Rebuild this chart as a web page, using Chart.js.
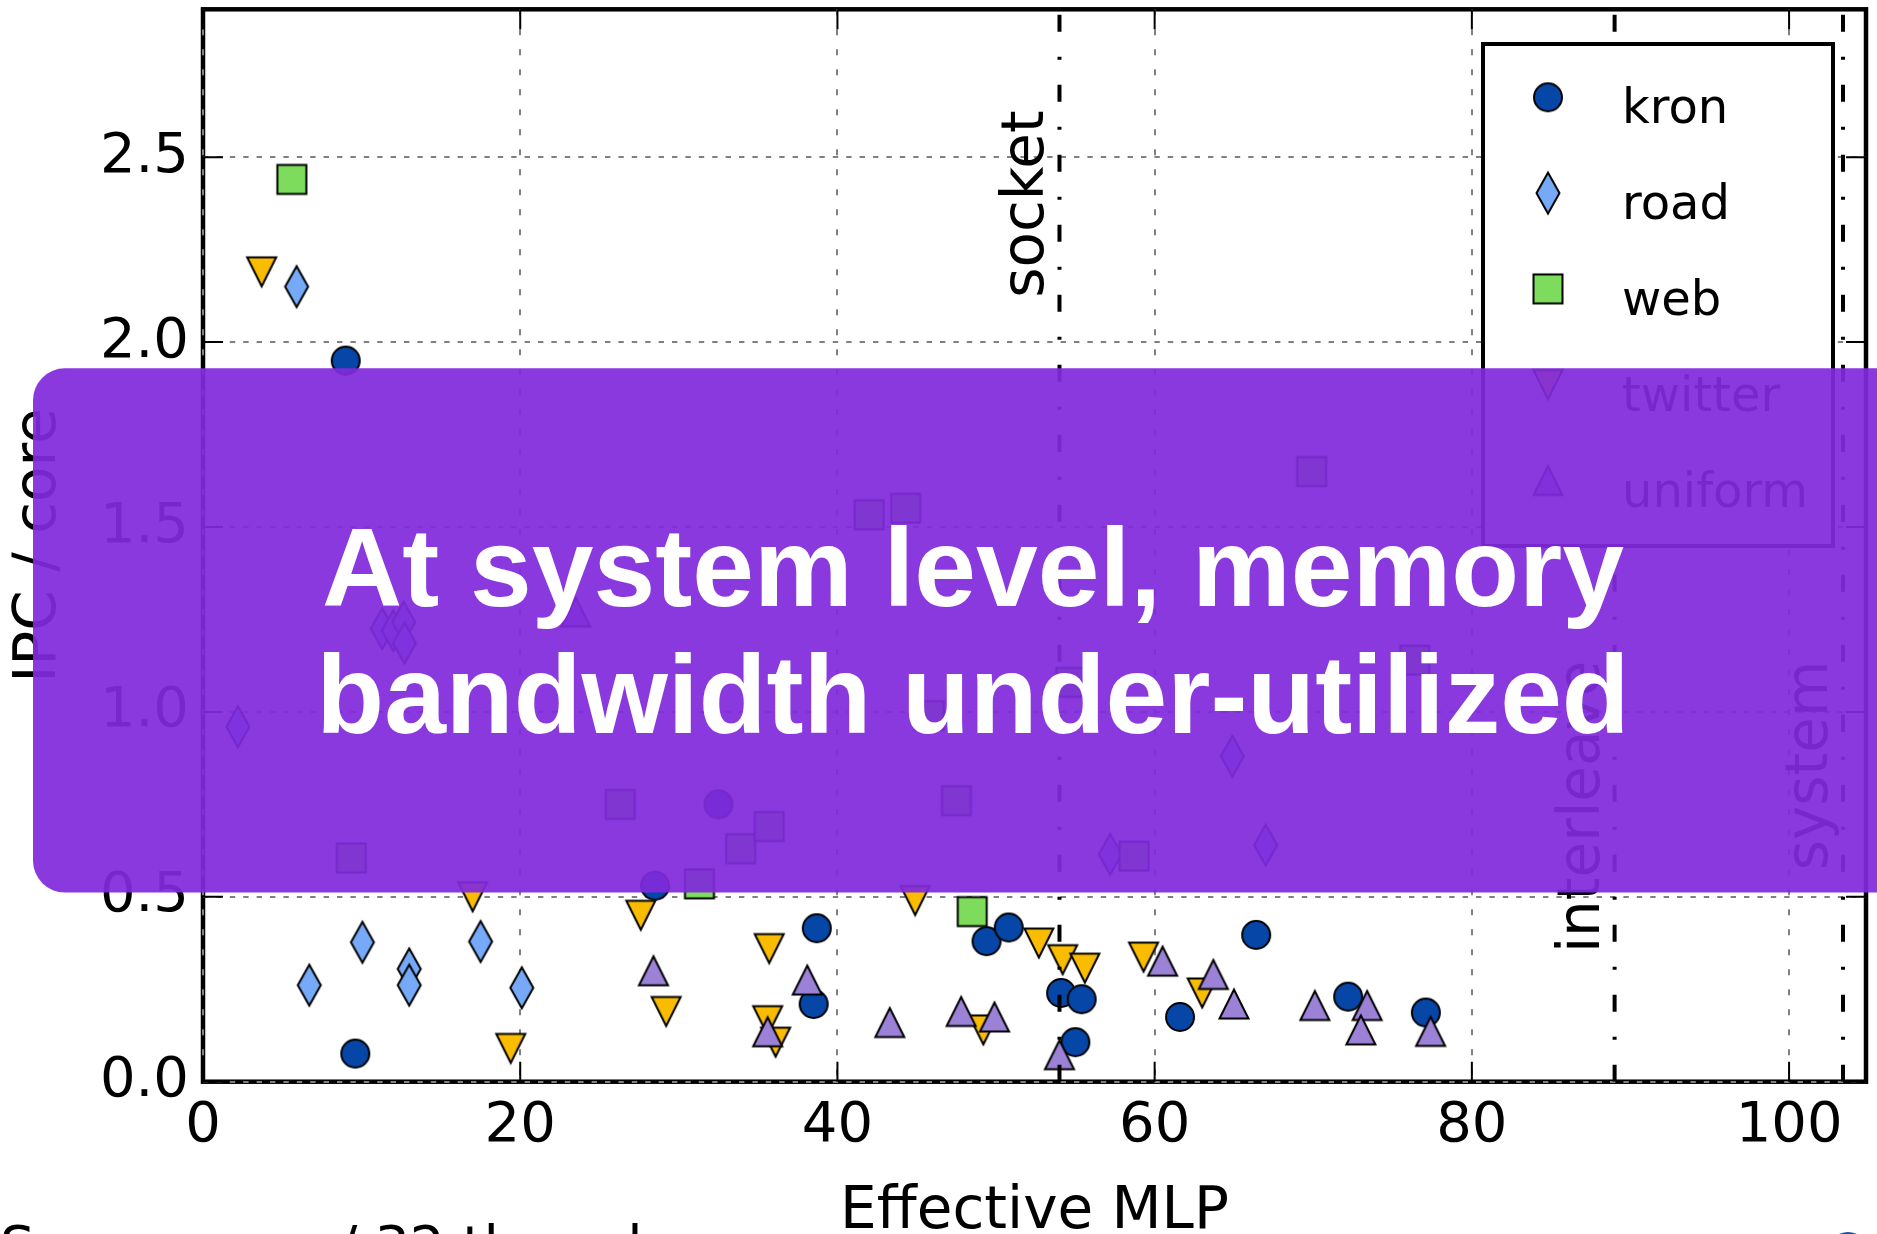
<!DOCTYPE html>
<html>
<head>
<meta charset="utf-8">
<script src="https://cdn.jsdelivr.net/npm/chart.js@4/dist/chart.umd.min.js"></script>
<style>
  html, body { margin: 0; padding: 0; background: #ffffff; overflow: hidden; }
  #wrap { position: relative; width: 1877px; height: 1234px; }
  canvas { display: block; }
</style>
</head>
<body>
<div id="wrap"><canvas id="chart" width="1877" height="1234"></canvas></div>
<script>
// ---- data: effective MLP (x) vs IPC per core (y) for each input graph ----
const kronX = [9.0, 9.6, 28.5, 32.5, 38.7, 38.5, 49.4, 50.8, 54.1, 55.4, 55.0, 61.6, 66.4, 72.2, 77.1];
const kronY = [1.95, 0.076, 0.53, 0.75, 0.415, 0.21, 0.38, 0.417, 0.24, 0.223, 0.107, 0.175, 0.397, 0.23, 0.187];

const roadX = [5.9, 2.2, 11.3, 12.0, 12.65, 12.7, 6.7, 10.05, 13.0, 13.0, 17.5, 20.1, 57.2, 64.9, 67.0];
const roadY = [2.15, 0.96, 1.225, 1.22, 1.243, 1.186, 0.261, 0.377, 0.305, 0.261, 0.379, 0.254, 0.615, 0.88, 0.64];

const webX = [5.6, 9.35, 26.3, 31.3, 33.9, 35.7, 42.0, 44.3, 45.8, 47.5, 48.5, 54.7, 58.7, 69.9, 76.4];
const webY = [2.44, 0.605, 0.75, 0.535, 0.63, 0.69, 1.533, 1.551, 0.99, 0.76, 0.46, 1.08, 0.61, 1.65, 1.14];

const twitterX = [3.7, 17.0, 19.4, 27.6, 29.2, 35.7, 35.6, 36.1, 44.9, 49.2, 52.7, 54.2, 55.6, 59.3, 63.0];
const twitterY = [2.19, 0.50, 0.09, 0.45, 0.19, 0.36, 0.165, 0.107, 0.49, 0.14, 0.375, 0.33, 0.307, 0.337, 0.24];

const uniformX = [23.5, 28.4, 38.1, 35.6, 43.3, 47.8, 49.9, 54.0, 60.5, 63.7, 65.0, 70.1, 73.4, 73.0, 77.4];
const uniformY = [1.27, 0.30, 0.275, 0.135, 0.16, 0.19, 0.175, 0.073, 0.326, 0.29, 0.21, 0.206, 0.206, 0.14, 0.136];

// MLP limits drawn as vertical reference lines
const limitNames = ['socket', 'interleave', 'system'];
const limitValues = [54.0, 89.0, 103.4];

// axes
const xTickValues = [0, 20, 40, 60, 80, 100];
const xTickLabels = ['0', '20', '40', '60', '80', '100'];
const yTickValues = [0, 0.5, 1.0, 1.5, 2.0, 2.5];
const yTickLabels = ['0.0', '0.5', '1.0', '1.5', '2.0', '2.5'];
const xTitle = 'Effective MLP';
const yTitle = 'IPC / core';
const X_MAX = 104.85;
const Y_MAX = 2.9;

const headline = ['At system level, memory', 'bandwidth under-utilized'];
const footnote = 'Some cores / 32 threads';

// ---- styling ----
const FONT = "'DejaVu Sans'";
const seriesStyle = [
  { label: 'kron',    xs: kronX,    ys: kronY,    shape: 'circle',      fill: '#0646a6' },
  { label: 'road',    xs: roadX,    ys: roadY,    shape: 'thinDiamond', fill: '#76aaf8' },
  { label: 'web',     xs: webX,     ys: webY,     shape: 'square',      fill: '#7ddc5c' },
  { label: 'twitter', xs: twitterX, ys: twitterY, shape: 'triDown',     fill: '#f9bc00' },
  { label: 'uniform', xs: uniformX, ys: uniformY, shape: 'triUp',       fill: '#9b82d6' }
];
// where each limit label starts (value on the y axis)
const limitLabelStart = [2.12, 0.348, 0.572];

function makeMarker(shape, fill) {
  const c = document.createElement('canvas');
  c.width = 40; c.height = 52;
  const g = c.getContext('2d');
  g.translate(20, 26);
  g.beginPath();
  if (shape === 'circle') {
    g.arc(0, 0, 14, 0, Math.PI * 2);
  } else if (shape === 'thinDiamond') {
    g.moveTo(0, -20.5); g.lineTo(11.5, 0); g.lineTo(0, 20.5); g.lineTo(-11.5, 0); g.closePath();
  } else if (shape === 'square') {
    g.rect(-14.5, -14.5, 29, 29);
  } else if (shape === 'triDown') {
    g.moveTo(-14.5, -14.5); g.lineTo(14.5, -14.5); g.lineTo(0, 14.5); g.closePath();
  } else if (shape === 'triUp') {
    g.moveTo(-14.5, 14.5); g.lineTo(14.5, 14.5); g.lineTo(0, -14.5); g.closePath();
  }
  g.fillStyle = fill;
  g.fill();
  g.lineWidth = 2;
  g.lineJoin = 'miter';
  g.strokeStyle = '#000000';
  g.stroke();
  return c;
}

const markers = seriesStyle.map(s => makeMarker(s.shape, s.fill));

const scatterSets = seriesStyle.map((s, i) => ({
  type: 'scatter',
  label: s.label,
  data: s.xs.map((x, j) => ({ x: x, y: s.ys[j] })),
  pointStyle: markers[i],
  pointRadius: 15,
  pointHoverRadius: 15,
  order: seriesStyle.length - i
}));

const limitSets = limitValues.map((v, i) => ({
  type: 'line',
  label: limitNames[i],
  data: [{ x: v, y: 0 }, { x: v, y: Y_MAX }],
  borderColor: '#000000',
  borderWidth: 4,
  borderDash: [17, 25, 3, 25],
  pointRadius: 0,
  showLine: true,
  fill: false,
  order: 0
}));

// axis frame underneath the grid (grid dots show over the spines)
const framePlugin = {
  id: 'frame',
  beforeDraw(chart) {
    const { ctx, chartArea: a } = chart;
    ctx.save();
    ctx.strokeStyle = '#000000';
    ctx.lineWidth = 4.5;
    ctx.strokeRect(a.left, a.top, a.right - a.left, a.bottom - a.top);
    ctx.restore();
  }
};

// inward tick marks on all four sides
const tickPlugin = {
  id: 'inTicks',
  afterDatasetsDraw(chart) {
    const { ctx, chartArea: a, scales } = chart;
    const L = 20;
    ctx.save();
    ctx.strokeStyle = '#000000';
    ctx.lineWidth = 2;
    ctx.beginPath();
    xTickValues.forEach(v => {
      const px = scales.x.getPixelForValue(v);
      ctx.moveTo(px, a.bottom); ctx.lineTo(px, a.bottom - L);
      ctx.moveTo(px, a.top); ctx.lineTo(px, a.top + L);
    });
    yTickValues.forEach(v => {
      const py = scales.y.getPixelForValue(v);
      ctx.moveTo(a.left, py); ctx.lineTo(a.left + L, py);
      ctx.moveTo(a.right, py); ctx.lineTo(a.right - L, py);
    });
    ctx.stroke();
    ctx.restore();
  }
};

// limit labels, legend box, headline banner and footnote
const decorPlugin = {
  id: 'decor',
  afterDraw(chart) {
    const { ctx, scales } = chart;
    const xs = scales.x, ys = scales.y;

    // rotated labels beside each limit line
    ctx.save();
    ctx.fillStyle = '#000000';
    ctx.font = '58px ' + FONT;
    ctx.textAlign = 'left';
    ctx.textBaseline = 'alphabetic';
    limitValues.forEach((v, i) => {
      const px = xs.getPixelForValue(v) - 16;
      const py = ys.getPixelForValue(limitLabelStart[i]);
      ctx.save();
      ctx.translate(px, py);
      ctx.rotate(-Math.PI / 2);
      ctx.fillText(limitNames[i], 0, 0);
      ctx.restore();
    });
    ctx.restore();

    // legend
    const box = { l: 1483, t: 44, r: 1833, b: 546 };
    ctx.save();
    ctx.fillStyle = '#ffffff';
    ctx.fillRect(box.l, box.t, box.r - box.l, box.b - box.t);
    ctx.strokeStyle = '#000000';
    ctx.lineWidth = 4;
    ctx.strokeRect(box.l, box.t, box.r - box.l, box.b - box.t);
    ctx.font = '48px ' + FONT;
    ctx.fillStyle = '#000000';
    ctx.textAlign = 'left';
    ctx.textBaseline = 'alphabetic';
    chart.data.datasets.filter(d => d.type === 'scatter').forEach((d, i) => {
      const base = 123.3 + i * 95.8;
      const m = d.pointStyle;
      ctx.drawImage(m, 1548 - m.width / 2, base - 26 - m.height / 2);
      ctx.fillText(d.label, 1622, base);
    });
    ctx.restore();

    // headline banner
    ctx.save();
    const bx = 33, by = 368.3, bw = 1900, bh = 524.3, r = 32;
    ctx.beginPath();
    ctx.moveTo(bx + r, by);
    ctx.lineTo(bx + bw - r, by);
    ctx.arcTo(bx + bw, by, bx + bw, by + r, r);
    ctx.lineTo(bx + bw, by + bh - r);
    ctx.arcTo(bx + bw, by + bh, bx + bw - r, by + bh, r);
    ctx.lineTo(bx + r, by + bh);
    ctx.arcTo(bx, by + bh, bx, by + bh - r, r);
    ctx.lineTo(bx, by + r);
    ctx.arcTo(bx, by, bx + r, by, r);
    ctx.closePath();
    ctx.fillStyle = 'rgba(128, 42, 220, 0.93)';
    ctx.fill();
    ctx.fillStyle = '#ffffff';
    ctx.font = "bold 111px 'Liberation Sans'";
    ctx.textAlign = 'center';
    ctx.textBaseline = 'alphabetic';
    ctx.fillText(headline[0], 973, 605.6);
    ctx.fillText(headline[1], 973, 733);
    ctx.restore();

    // footnote cut by the bottom edge
    ctx.save();
    ctx.fillStyle = '#000000';
    ctx.font = '55px ' + FONT;
    ctx.textAlign = 'left';
    ctx.textBaseline = 'alphabetic';
    ctx.fillText(footnote, 0, 1265);
    ctx.fillStyle = '#1f4f9f';
    ctx.beginPath();
    ctx.arc(1848, 1252, 20, 0, Math.PI * 2);
    ctx.fill();
    ctx.restore();
  }
};

Chart.defaults.font.family = FONT;
Chart.defaults.color = '#000000';

new Chart(document.getElementById('chart'), {
  type: 'scatter',
  data: { datasets: [...scatterSets, ...limitSets] },
  options: {
    responsive: false,
    animation: false,
    events: [],
    devicePixelRatio: 1,
    layout: { autoPadding: false, padding: { left: 0, top: 9.3, right: 11, bottom: 0 } },
    plugins: { legend: { display: false }, tooltip: { enabled: false } },
    scales: {
      x: {
        type: 'linear',
        min: 0,
        max: X_MAX,
        afterBuildTicks: s => { s.ticks = xTickValues.map(v => ({ value: v })); },
        afterFit: s => { s.height = 1234 - 1081.7; s.paddingLeft = 0; s.paddingRight = 0; },
        ticks: {
          callback: (v, i) => xTickLabels[i],
          font: { size: 56, family: FONT },
          color: '#000000',
          padding: 11,
          maxRotation: 0,
          autoSkip: false
        },
        grid: { color: '#808080', lineWidth: 2, drawTicks: false },
        border: { display: false, dash: [6, 14] },
        title: {
          display: true,
          text: xTitle,
          font: { size: 58, family: FONT, lineHeight: 0.72 },
          color: '#000000',
          padding: { top: 0, bottom: 0 }
        }
      },
      y: {
        type: 'linear',
        min: 0,
        max: Y_MAX,
        afterBuildTicks: s => { s.ticks = yTickValues.map(v => ({ value: v })); },
        afterFit: s => { s.width = 203; s.paddingTop = 0; s.paddingBottom = 0; },
        ticks: {
          callback: (v, i) => yTickLabels[i],
          font: { size: 56, family: FONT },
          color: '#000000',
          padding: 14,
          autoSkip: false
        },
        grid: { color: '#808080', lineWidth: 2, drawTicks: false },
        border: { display: false, dash: [5.4, 8] },
        title: {
          display: true,
          text: yTitle,
          font: { size: 58, family: FONT, lineHeight: 1 },
          color: '#000000',
          padding: { top: 11, bottom: 0 }
        }
      }
    }
  },
  plugins: [framePlugin, tickPlugin, decorPlugin]
});
</script>
</body>
</html>
